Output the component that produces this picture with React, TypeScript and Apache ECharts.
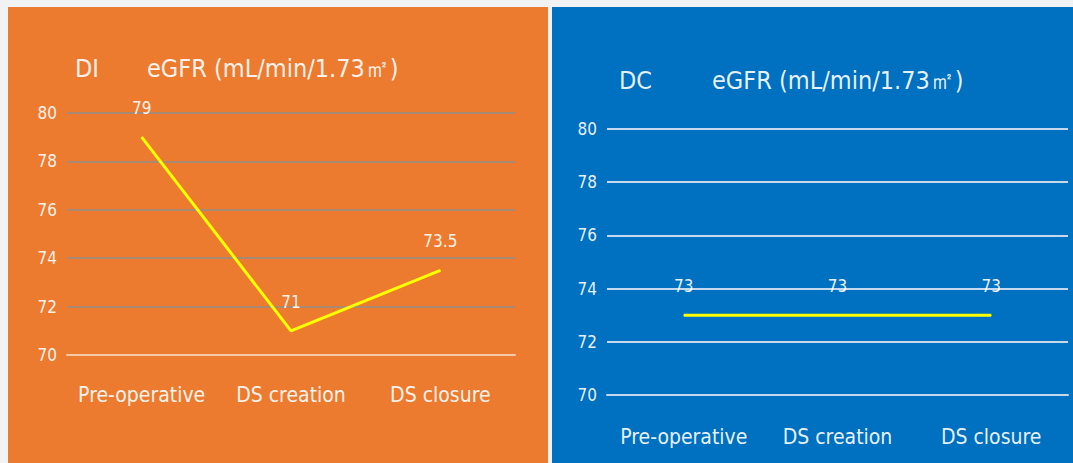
import React, { useEffect, useRef } from "react";
import * as echarts from "echarts";

const categories = ["Pre-operative", "DS creation", "DS closure"];
const diValues = [79, 71, 73.5];
const dcValues = [73, 73, 73];
const yMin = 70;
const yMax = 80;
const yInterval = 2;
const diTitle = "DI";
const dcTitle = "DC";
const unitTitle = "eGFR (mL/min/1.73㎡)";

const FONT = "'Liberation Sans Narrow', 'DejaVu Sans Condensed', 'Roboto', sans-serif";
const TXT = "rgba(255,255,255,0.92)";

export default function App() {
  const ref = useRef<HTMLDivElement>(null);
  useEffect(() => {
    if (!ref.current) return;
    const chart = echarts.init(ref.current, null, { renderer: "svg" });
    const yAxisBase = (gridIndex: number, split: string) => ({
      type: "value",
      gridIndex,
      min: yMin,
      max: yMax,
      interval: yInterval,
      axisLine: { show: false },
      axisTick: { show: false },
      axisLabel: { color: TXT, fontSize: 17, fontFamily: FONT, margin: 10 },
      splitLine: { lineStyle: { color: split, width: 2 } },
    });
    const xAxisBase = (gridIndex: number, lineColor: string, margin: number) => ({
      type: "category",
      gridIndex,
      data: categories,
      boundaryGap: true,
      axisLine: { show: true, lineStyle: { color: lineColor, width: 2 } },
      axisTick: { show: false },
      axisLabel: { color: TXT, fontSize: 21, fontFamily: FONT, margin, interval: 0 },
    });
    const lineSeries = (idx: number, data: number[]) => ({
      type: "line",
      xAxisIndex: idx,
      yAxisIndex: idx,
      data,
      symbol: "circle",
      symbolSize: 1,
      itemStyle: { color: "#ffff00" },
      lineStyle: { color: "#ffff00", width: 3 },
      label: {
        show: true,
        position: "top",
        distance: 20,
        color: TXT,
        fontSize: 17,
        fontFamily: FONT,
      },
    });
    chart.setOption({
      animation: false,
      backgroundColor: "#f1f2f4",
      graphic: [
        { type: "rect", z: -10, shape: { x: 8, y: 7, width: 540, height: 460 }, style: { fill: "#ec7b30" } },
        { type: "rect", z: -10, shape: { x: 552, y: 7, width: 521, height: 460 }, style: { fill: "#0070c0" } },
        { type: "text", x: 75, y: 68, style: { text: diTitle, fill: TXT, font: `25px ${FONT}`, textVerticalAlign: "middle" } },
        { type: "text", x: 147, y: 68, style: { text: unitTitle, fill: TXT, font: `25px ${FONT}`, textVerticalAlign: "middle" } },
        { type: "text", x: 619, y: 80, style: { text: dcTitle, fill: TXT, font: `25px ${FONT}`, textVerticalAlign: "middle" } },
        { type: "text", x: 712, y: 80, style: { text: unitTitle, fill: TXT, font: `25px ${FONT}`, textVerticalAlign: "middle" } },
      ],
      grid: [
        { left: 67, top: 113, width: 448, height: 242 },
        { left: 607, top: 129, width: 461, height: 266 },
      ],
      xAxis: [xAxisBase(0, "#f3c9a8", 29), xAxisBase(1, "#c4d9ee", 31)],
      yAxis: [yAxisBase(0, "#a88a74"), yAxisBase(1, "#c4d9ee")],
      series: [lineSeries(0, diValues), lineSeries(1, dcValues)],
    });
    return () => chart.dispose();
  }, []);
  return (
    <div
      ref={ref}
      style={{ position: "fixed", left: 0, top: 0, width: 1073, height: 463 }}
    />
  );
}
